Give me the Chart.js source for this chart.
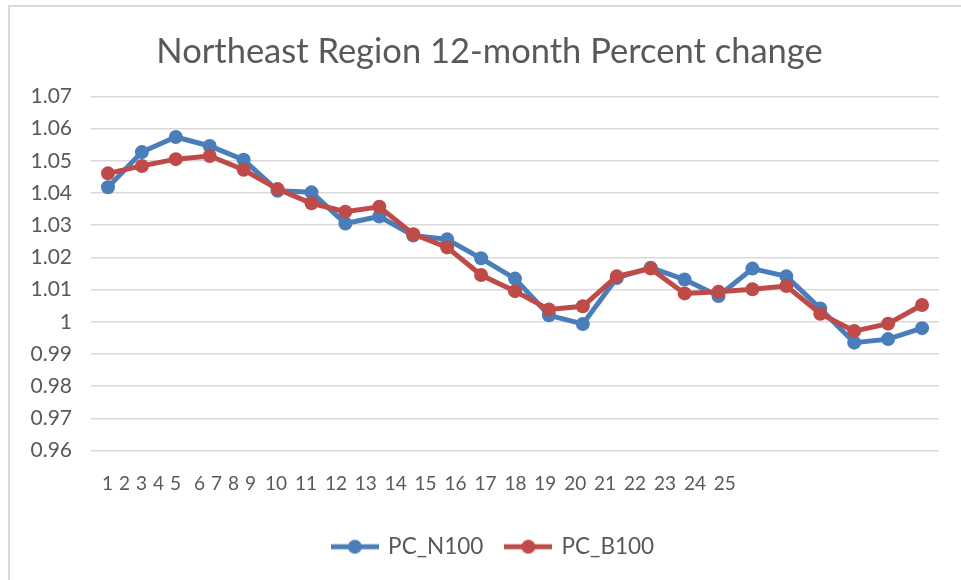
<!DOCTYPE html>
<html><head><meta charset="utf-8">
<script src="https://cdn.jsdelivr.net/npm/chart.js@4/dist/chart.umd.min.js"></script>
<style>
html,body{margin:0;padding:0;background:#fff;}
#wrap{position:relative;width:961px;height:580px;overflow:hidden;}
#frame{position:absolute;left:8px;top:5px;width:960px;height:580px;border-left:2px solid #d9d9d9;border-top:2px solid #d9d9d9;pointer-events:none;}
canvas{position:absolute;left:0;top:0;}
</style></head><body>
<div id="wrap"><canvas id="c" width="961" height="580"></canvas><div id="frame"></div></div>
<script>
// ---- data ----
const categories = ['1','2','3','4','5','6','7','8','9','10','11','12','13','14','15','16','17','18','19','20','21','22','23','24','25'];
const seriesNames = ['PC_N100', 'PC_B100'];
const pcN100 = [1.0418,1.0527,1.0574,1.0546,1.0503,1.0407,1.0402,1.0305,1.0327,1.0268,1.0256,1.0197,1.0134,1.0020,0.9993,1.0136,1.0168,1.0131,1.0080,1.0165,1.0141,1.0041,0.9935,0.9946,0.9980];
const pcB100 = [1.0461,1.0484,1.0505,1.0515,1.0472,1.0412,1.0368,1.0342,1.0357,1.0272,1.0231,1.0145,1.0095,1.0038,1.0048,1.0141,1.0165,1.0088,1.0093,1.0101,1.0111,1.0025,0.9971,0.9994,1.0052];
const yTicks = [0.96,0.97,0.98,0.99,1.00,1.01,1.02,1.03,1.04,1.05,1.06,1.07];
const titleText = 'Northeast Region 12-month Percent change';

// ---- layout (category-label placement as in the original, in category widths from plot left) ----
const labelPx = [16.6,33.6,50.6,67.6,84.6,108.4,125.4,142.4,159.4,185,214.9,244.9,274.8,304.7,334.6,364.5,394.5,424.4,454.3,484.2,514.1,544.1,574,603.9,633.8];
const labelSlots = labelPx.map(p => p / 33.92);

const FONT = 'Lato, Carlito, Calibri, "Open Sans", sans-serif';
const TXT = '#595959';
const BLUE = '#4A7EBB';
const RED = '#BE4B48';

function legendIcon(color){
  const c = document.createElement('canvas');
  c.width = 48; c.height = 16;
  const g = c.getContext('2d');
  g.strokeStyle = color; g.lineWidth = 5;
  g.beginPath(); g.moveTo(0, 8); g.lineTo(48, 8); g.stroke();
  g.fillStyle = color;
  g.beginPath(); g.arc(24, 8, 7, 0, Math.PI * 2); g.fill();
  return c;
}
const icons = [legendIcon(BLUE), legendIcon(RED)];

// shift the centred title / legend boxes to where the original centres them
const centerShift = {
  id: 'centerShift',
  afterLayout(chart) {
    const pairs = [[chart.titleBlock, 10], [chart.legend, 14]];
    for (const [b, dx] of pairs) { if (b) { b.left += dx; b.right += dx; } }
  }
};

new Chart(document.getElementById('c'), {
  type: 'line',
  data: {
    labels: categories,
    datasets: [
      { label: seriesNames[0], data: pcN100, borderColor: BLUE, backgroundColor: BLUE,
        pointBackgroundColor: BLUE, pointBorderColor: BLUE, borderWidth: 5, pointRadius: 7,
        pointBorderWidth: 0, tension: 0, order: 1, xAxisID: 'x', yAxisID: 'y' },
      { label: seriesNames[1], data: pcB100, borderColor: RED, backgroundColor: RED,
        pointBackgroundColor: RED, pointBorderColor: RED, borderWidth: 5, pointRadius: 7,
        pointBorderWidth: 0, tension: 0, order: 0, xAxisID: 'x', yAxisID: 'y' }
    ]
  },
  plugins: [centerShift],
  options: {
    responsive: false,
    animation: false,
    devicePixelRatio: 1,
    layout: { padding: { left: 20, right: 22, top: 31, bottom: 12 } },
    plugins: {
      tooltip: { enabled: false },
      title: {
        display: true, text: titleText, color: TXT,
        font: { family: FONT, size: 34.5, weight: 'normal' },
        padding: { top: 0, bottom: 24 }
      },
      legend: {
        position: 'bottom',
        labels: {
          usePointStyle: true, pointStyleWidth: 44, padding: 23, color: TXT,
          font: { family: FONT, size: 22.5 },
          generateLabels: (chart) => chart.data.datasets.map((ds, i) => ({
            text: ds.label, fillStyle: ds.borderColor, strokeStyle: ds.borderColor,
            lineWidth: 0, pointStyle: icons[i], datasetIndex: i, hidden: false, fontColor: TXT
          }))
        }
      }
    },
    scales: {
      x: { type: 'category', labels: categories, offset: true, display: false },
      xl: {
        type: 'linear', position: 'bottom', min: 0, max: categories.length,
        grid: { display: false, drawTicks: false }, border: { display: false },
        afterBuildTicks: (s) => { s.ticks = labelSlots.map(v => ({ value: v })); },
        afterFit: (s) => { s.height = 62; },
        ticks: { autoSkip: false, maxRotation: 0, padding: 22, color: TXT,
          font: { family: FONT, size: 19 },
          callback: (v, i) => categories[i] }
      },
      y: {
        type: 'linear', min: yTicks[0], max: yTicks[yTicks.length - 1],
        afterBuildTicks: (s) => { s.ticks = yTicks.map(v => ({ value: v })); },
        afterFit: (s) => { s.width = 71; },
        grid: { color: '#d9d9d9', lineWidth: 1.5, drawTicks: false },
        border: { display: false },
        ticks: { padding: 19, color: TXT, font: { family: FONT, size: 21 },
          callback: (v) => String(Math.round(v * 100) / 100) }
      }
    }
  }
});
</script>
</body></html>
